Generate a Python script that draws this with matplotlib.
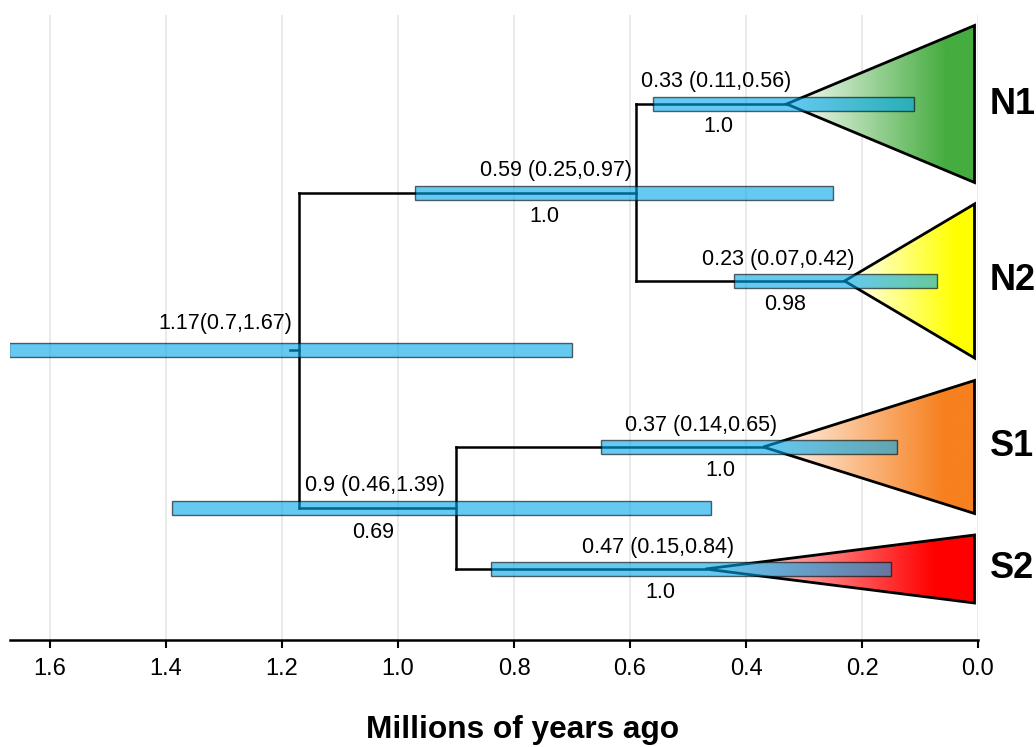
import numpy as np
import matplotlib
matplotlib.use("Agg")
import matplotlib.pyplot as plt
from matplotlib.patches import Polygon
from matplotlib.colors import to_rgb

plt.rcParams['font.family'] = ['Liberation Sans', 'DejaVu Sans']

# ---- data ----
clade_names = ['N1', 'N2', 'S1', 'S2']
clade_age = [0.33, 0.23, 0.37, 0.47]
clade_lo = [0.11, 0.07, 0.14, 0.15]
clade_hi = [0.56, 0.42, 0.65, 0.84]
clade_post = ['1.0', '0.98', '1.0', '1.0']
clade_y = [5.36, 3.59, 1.93, 0.71]        # vertical slot of each clade
clade_half = [0.785, 0.77, 0.665, 0.34]   # half height of collapsed clade
clade_color = ['#45ac3f', '#ffff00', '#f7801f', '#ff0000']

# internal nodes: N (N1+N2), S (S1+S2), root (N+S)
node_names = ['N', 'S', 'root']
node_age = [0.59, 0.90, 1.17]
node_lo = [0.25, 0.46, 0.70]
node_hi = [0.97, 1.39, 1.67]
node_post = ['1.0', '0.69', '']
node_text = ['0.59 (0.25,0.97)', '0.9 (0.46,1.39)', '1.17(0.7,1.67)']
clade_text = ['0.33 (0.11,0.56)', '0.23 (0.07,0.42)', '0.37 (0.14,0.65)', '0.47 (0.15,0.84)']

xticks = [1.6, 1.4, 1.2, 1.0, 0.8, 0.6, 0.4, 0.2, 0.0]

# label placement (shift left of the node, in Myr)
clade_lab_dx = [0.122, 0.115, 0.108, 0.082]
clade_post_dx = [0.118, 0.103, 0.075, 0.078]
node_lab_dx = [0.138, 0.140, 0.128]
node_post_dx = [0.157, 0.143, 0.0]

# ---- figure ----
fig = plt.figure(figsize=(10.36, 7.47), dpi=100)
ax = fig.add_axes([10/1036, 1-640/747, 968/1036, 625/747])

node_y = [(clade_y[0]+clade_y[1])/2, (clade_y[2]+clade_y[3])/2]
node_y.append((node_y[0]+node_y[1])/2)

for t in xticks:
    ax.axvline(t, color='#e6e6e6', lw=1.2, zorder=0)

# collapsed clades, white -> colour gradient
grad = np.linspace(0, 1, 256)
grad = np.clip(grad/0.85, 0, 1)
for i in range(4):
    c = np.array(to_rgb(clade_color[i]))
    img = (1-grad)[:, None]*np.ones(3) + grad[:, None]*c
    img = np.tile(img[None, :, :], (2, 1, 1))
    a, y, h = clade_age[i], clade_y[i], clade_half[i]
    tri = Polygon([[a, y], [0.006, y+h], [0.006, y-h]], closed=True,
                  fill=False, ec='black', lw=2.0, zorder=2.5, joinstyle='miter')
    im = ax.imshow(img, extent=(a, 0.006, y-h, y+h), origin='lower',
                   aspect='auto', zorder=2, interpolation='bilinear')
    ax.add_patch(tri)
    im.set_clip_path(tri)

# tree branches
lw = 1.8
for k, (c1, c2) in enumerate([(0, 1), (2, 3)]):
    p = node_age[k]
    ax.plot([p, p], [clade_y[c1], clade_y[c2]], color='black', lw=lw, zorder=3)
    for c in (c1, c2):
        ax.plot([p, clade_age[c]], [clade_y[c], clade_y[c]], color='black', lw=lw, zorder=3)
r = node_age[2]
ax.plot([r, r], [node_y[0], node_y[1]], color='black', lw=lw, zorder=3)
for k in (0, 1):
    ax.plot([r, node_age[k]], [node_y[k], node_y[k]], color='black', lw=lw, zorder=3)
ax.plot([r+0.017, r], [node_y[2], node_y[2]], color='black', lw=lw, zorder=3)

# 95% HPD bars
bar_kw = dict(height=0.14, color='#00a6ea', edgecolor='#000000', lw=1.0,
              alpha=0.6, zorder=4)
for i in range(4):
    ax.barh(clade_y[i], clade_hi[i]-clade_lo[i], left=clade_lo[i], **bar_kw)
for k in range(3):
    ax.barh(node_y[k], node_hi[k]-node_lo[k], left=node_lo[k], **bar_kw)

# labels
fs = 15.5
for i in range(4):
    ax.text(clade_age[i] + clade_lab_dx[i], clade_y[i]+0.22, clade_text[i],
            ha='center', va='center', fontsize=fs, zorder=5)
    ax.text(clade_age[i] + clade_post_dx[i], clade_y[i]-0.23, clade_post[i],
            ha='center', va='center', fontsize=fs, zorder=5)
    ax.text(1.0+0.012, clade_y[i], clade_names[i], transform=ax.get_yaxis_transform(),
            ha='left', va='center', fontsize=26, fontweight='bold', clip_on=False)
for k in range(3):
    dy = 0.27 if node_names[k] == 'root' else 0.22
    ax.text(node_age[k] + node_lab_dx[k], node_y[k]+dy, node_text[k],
            ha='center', va='center', fontsize=fs, zorder=5)
    if node_post[k]:
        ax.text(node_age[k] + node_post_dx[k], node_y[k]-0.24, node_post[k],
                ha='center', va='center', fontsize=fs, zorder=5)

ax.set_xlim(1.669, 0)
ax.set_ylim(0, 6.25)
ax.set_xticks(xticks)
ax.set_xticklabels(['%.1f' % t for t in xticks])
ax.set_yticks([])
for s in ('top', 'right', 'left'):
    ax.spines[s].set_visible(False)
ax.spines['bottom'].set_linewidth(1.8)
ax.tick_params(axis='x', direction='out', length=6, width=1.5, labelsize=17, pad=7)

fig.text(523/1036, 9/747, 'Millions of years ago', ha='center', va='baseline',
         fontsize=22.8, fontweight='bold')

fig.savefig('out.png', dpi=100)
